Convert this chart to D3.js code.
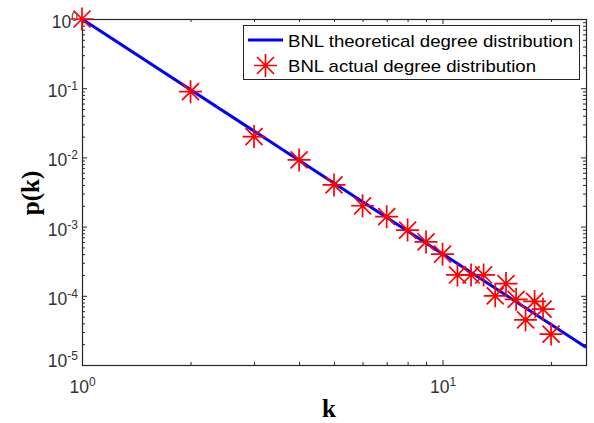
<!DOCTYPE html>
<html>
<head>
<meta charset="utf-8">
<script src="https://cdn.jsdelivr.net/npm/d3@7"></script>
<style>
  body { margin: 0; background: #fff; }
  svg { display: block; }
</style>
</head>
<body>
<div class="chart"></div>
<script>
//data
var degreeK = [1, 2, 3, 4, 5, 6, 7, 8, 9, 10, 11, 12, 13, 14, 15, 16, 17, 18, 19, 20];
var actualP = [1.0, 0.089, 0.02, 0.0092, 0.004, 0.002, 0.00139, 0.00089, 0.0006, 0.0004,
               0.0002, 0.0002, 0.0002, 0.0001, 0.00015, 0.000089, 0.000045, 0.000083, 0.000064, 0.000028];
// theoretical power law, straight on log-log so two ends are enough
var theoryK = [1, 25];
var theoryP = [1, 0.000018];

var xMajor = [1, 10];
var xMinor = [2, 3, 4, 5, 6, 7, 8, 9, 20];
var yMajor = [1e-5, 1e-4, 1e-3, 1e-2, 1e-1, 1];
var xTickExp = ["0", "1"];
var yTickExp = ["-5", "-4", "-3", "-2", "-1", "0"];
var legendLabels = ["BNL theoretical degree distribution", "BNL actual degree distribution"];

//----------------------------------------------------------
// Setup

var w = 594;
var h = 423;
// plot box edges (note: "top" is a reserved window global, so prefix these)
var plotL = 82, plotR = 586, plotT = 19, plotB = 365;
var axisColor = "#262626";

var x = d3.scaleLog().domain([1, 25]).range([plotL, plotR]);
var y = d3.scaleLog().domain([1e-5, 1]).range([plotB, plotT]);

var yMinor = [];
yMajor.slice(0, -1).forEach(function(d) {
  for (var m = 2; m <= 9; m++) yMinor.push(d * m);
});

var svg = d3.select(".chart")
            .append("svg")
            .attr("width", w)
            .attr("height", h);

svg.append("rect")
    .attr("width", w)
    .attr("height", h)
    .attr("fill", "#fff");

//----------------------------------------------------------
// Axes (box with inward ticks on all four sides)

function styleAxis(g) {
  g.select(".domain").remove();
  g.selectAll(".tick line").attr("stroke", axisColor);
  g.selectAll(".tick text").remove();
}

[[xMinor, 3], [xMajor, 5]].forEach(function(t) {
  svg.append("g")
      .attr("transform", "translate(0," + plotB + ")")
      .call(d3.axisBottom(x).tickValues(t[0]).tickSize(-t[1]))
      .call(styleAxis);
  svg.append("g")
      .attr("transform", "translate(0," + plotT + ")")
      .call(d3.axisTop(x).tickValues(t[0]).tickSize(-t[1]))
      .call(styleAxis);
});

[[yMinor, 3], [yMajor, 5]].forEach(function(t) {
  svg.append("g")
      .attr("transform", "translate(" + plotL + ",0)")
      .call(d3.axisLeft(y).tickValues(t[0]).tickSize(-t[1]))
      .call(styleAxis);
  svg.append("g")
      .attr("transform", "translate(" + plotR + ",0)")
      .call(d3.axisRight(y).tickValues(t[0]).tickSize(-t[1]))
      .call(styleAxis);
});

svg.append("rect")
    .attr("x", plotL + 0.5)
    .attr("y", plotT + 0.5)
    .attr("width", plotR - plotL)
    .attr("height", plotB - plotT)
    .attr("fill", "none")
    .attr("stroke", axisColor)
    .attr("stroke-width", 1.2);

// tick labels 10^n
var xLab = svg.selectAll(".xlab")
    .data(xMajor)
    .enter()
    .append("text")
    .attr("class", "xlab")
    .attr("x", function(d) { return x(d) + 0.5; })
    .attr("y", 393)
    .attr("text-anchor", "middle")
    .attr("font-family", "'Liberation Sans', Arial, sans-serif")
    .attr("font-size", 17.5)
    .attr("fill", "#333");
xLab.append("tspan").text("10");
xLab.append("tspan")
    .attr("font-size", 12)
    .attr("dy", -7)
    .text(function(d, i) { return xTickExp[i]; });

var yLab = svg.selectAll(".ylab")
    .data(yMajor)
    .enter()
    .append("text")
    .attr("class", "ylab")
    .attr("x", 78)
    .attr("y", function(d, i) { return y(d) + (i === 0 ? 2 : 9); })
    .attr("text-anchor", "end")
    .attr("font-family", "'Liberation Sans', Arial, sans-serif")
    .attr("font-size", 17.5)
    .attr("fill", "#333");
yLab.append("tspan").text("10");
yLab.append("tspan")
    .attr("font-size", 12)
    .attr("dy", -7)
    .text(function(d, i) { return yTickExp[i]; });

// axis titles
svg.append("text")
    .attr("x", 329)
    .attr("y", 417)
    .attr("text-anchor", "middle")
    .attr("font-family", "'Liberation Serif', 'Times New Roman', serif")
    .attr("font-weight", "bold")
    .attr("font-size", 25)
    .attr("fill", "#000")
    .text("k");

svg.append("text")
    .attr("transform", "translate(39,193) rotate(-90)")
    .attr("text-anchor", "middle")
    .attr("font-family", "'Liberation Serif', 'Times New Roman', serif")
    .attr("font-weight", "bold")
    .attr("font-size", 25)
    .attr("fill", "#000")
    .text("p(k)");

//----------------------------------------------------------
// Theoretical line and actual points

var line = d3.line()
    .x(function(d) { return x(d[0]); })
    .y(function(d) { return y(d[1]); });

svg.append("path")
    .datum(d3.zip(theoryK, theoryP))
    .attr("d", line)
    .attr("fill", "none")
    .attr("stroke", "#0000ff")
    .attr("stroke-width", 3);

function starPath(r) {
  var a = r * 0.74;
  return "M" + (-r) + ",0L" + r + ",0M0," + (-r) + "L0," + r +
         "M" + (-a) + "," + (-a) + "L" + a + "," + a +
         "M" + (-a) + "," + a + "L" + a + "," + (-a);
}

svg.selectAll(".star")
    .data(d3.zip(degreeK, actualP))
    .enter()
    .append("path")
    .attr("class", "star")
    .attr("transform", function(d) {
      return "translate(" + x(d[0]) + "," + y(d[1]) + ")";
    })
    .attr("d", starPath(11.5))
    .attr("fill", "none")
    .attr("stroke", "#ff0000")
    .attr("stroke-width", 1.7);

//----------------------------------------------------------
// Legend

var legend = svg.append("g");

legend.append("rect")
    .attr("x", 243.5)
    .attr("y", 25.5)
    .attr("width", 336)
    .attr("height", 54)
    .attr("fill", "#fff")
    .attr("stroke", axisColor)
    .attr("stroke-width", 1);

legend.append("line")
    .attr("x1", 248)
    .attr("x2", 283)
    .attr("y1", 40)
    .attr("y2", 40)
    .attr("stroke", "#0000ff")
    .attr("stroke-width", 3);

legend.append("path")
    .attr("transform", "translate(265.5,65.5)")
    .attr("d", starPath(11.5))
    .attr("fill", "none")
    .attr("stroke", "#ff0000")
    .attr("stroke-width", 1.7);

legend.selectAll(".legtext")
    .data(legendLabels)
    .enter()
    .append("text")
    .attr("class", "legtext")
    .attr("x", 288)
    .attr("y", function(d, i) { return 47 + i * 24.5; })
    .attr("font-family", "'Liberation Sans', Arial, sans-serif")
    .attr("font-size", 17)
    .attr("fill", "#000")
    .attr("textLength", function(d, i) { return i === 0 ? 285 : 248; })
    .attr("lengthAdjust", "spacingAndGlyphs")
    .text(function(d) { return d; });
</script>
</body>
</html>
